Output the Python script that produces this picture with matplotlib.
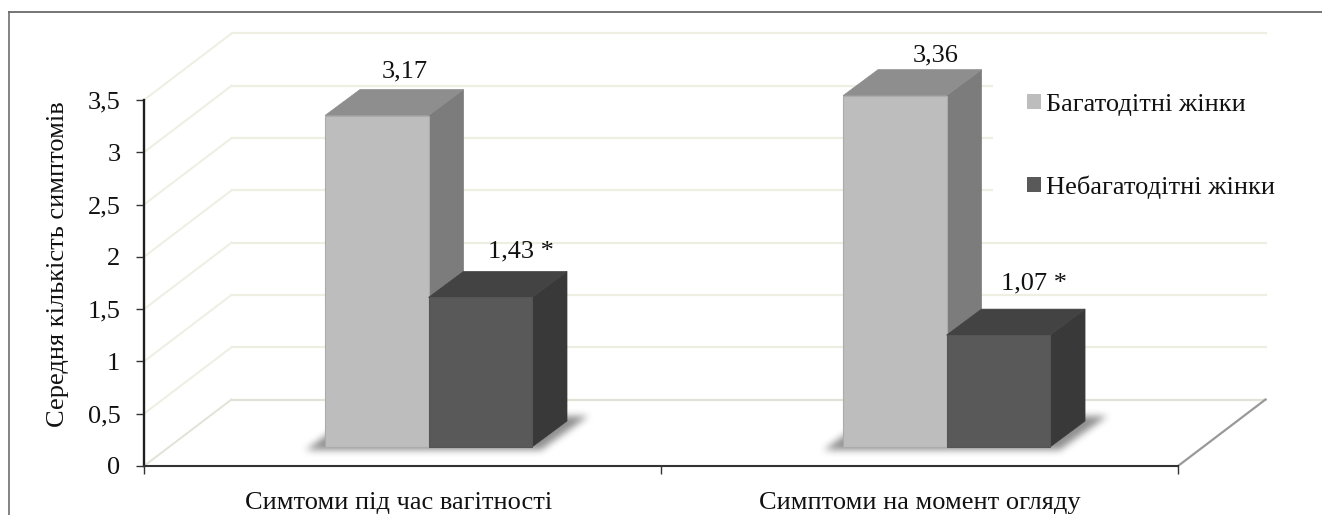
import matplotlib
matplotlib.use("Agg")
import matplotlib.pyplot as plt
import numpy as np
from matplotlib.patches import Patch, Polygon
from matplotlib.lines import Line2D

plt.rcParams['font.family'] = ['Liberation Serif', 'DejaVu Serif']

categories = ["Симтоми під час вагітності", "Симптоми на момент огляду"]
series_names = ["Багатодітні жінки", "Небагатодітні жінки"]
many_children = [3.17, 3.36]
few_children = [1.43, 1.07]
value_labels = [["3,17", "3,36"], ["1,43 *", "1,07 *"]]
y_ticks = [0, 0.5, 1, 1.5, 2, 2.5, 3, 3.5]
y_tick_labels = ["0", "0,5", "1", "1,5", "2", "2,5", "3", "3,5"]
y_title = "Середня кількість симптомів"

W, H = 1322, 515
LEFT, RIGHT, BOTTOM, TOP = 144, 1178, 466, 100
FONT = 19

fig = plt.figure(figsize=(W / 100, H / 100), dpi=100, facecolor="white")
ax = fig.add_axes([LEFT / W, 1 - BOTTOM / H, (RIGHT - LEFT) / W, (BOTTOM - TOP) / H])
ax.patch.set_alpha(0)

# pixel lengths expressed in data units, used for the oblique projection
ux = 2 / (RIGHT - LEFT)
uy = 3.5 / (BOTTOM - TOP)
WALL_DX, WALL_DY = 87.5 * ux, 66.5 * uy
BAR_W = 103.5 * ux
INSET_DX, INSET_DY = 26 * ux, 19 * uy
BAR_DX, BAR_DY = 35 * ux, 26 * uy

# outer frame of the chart (open at the right and bottom)
fig.add_artist(Line2D([9 / W, 9 / W], [0, 1 - 12 / H], color="#7a7a7a", lw=1.3))
fig.add_artist(Line2D([9 / W, 1], [1 - 12 / H, 1 - 12 / H], color="#6a6a6a", lw=1.3))

# gridlines on the side wall and the back wall
GRID = "#eeeee2"
for v in y_ticks:
    c = "#e2e2d8" if v == 0 else GRID
    ax.plot([0, WALL_DX], [v, v + WALL_DY], color=c, lw=1.4, zorder=1, clip_on=False)
    ax.plot([WALL_DX, 2 + WALL_DX], [v + WALL_DY, v + WALL_DY], color=c, lw=1.6,
            zorder=1, clip_on=False)
ax.plot([2, 2 + WALL_DX], [0, WALL_DY], color="#999999", lw=1.6, zorder=1, clip_on=False)


def box_blur(a, radius, passes=3):
    kernel = np.ones(2 * radius + 1) / (2 * radius + 1)
    for _ in range(passes):
        a = np.apply_along_axis(lambda r: np.convolve(r, kernel, mode="same"), 0, a)
        a = np.apply_along_axis(lambda r: np.convolve(r, kernel, mode="same"), 1, a)
    return a


def draw_shadow(x_left):
    """Blurred parallelogram cast on the floor beneath a pair of boxes."""
    pad = 20
    width_px = int(2 * BAR_W / ux) + 110
    height_px = 33 + 2 * pad
    yy, xx = np.mgrid[0:height_px, 0:width_px]
    # row 0 is the top of the raster; the bottom edge of the shape sits at row pad + 33
    rise = (pad + 33) - yy
    sheared = xx - rise * (46 / 33)
    mask = ((rise >= 0) & (rise <= 33) & (sheared >= pad) & (sheared <= pad + 2 * BAR_W / ux + 28))
    soft = box_blur(mask.astype(float), 3)
    rgba = np.zeros((height_px, width_px, 4))
    rgba[..., :3] = 0.2
    rgba[..., 3] = soft * 0.55
    x_start = x_left - (19 + pad) * ux
    y_start = INSET_DY - (2 + pad) * uy
    ax.imshow(rgba, extent=(x_start, x_start + width_px * ux, y_start, y_start + height_px * uy),
              origin="upper", aspect="auto", interpolation="bilinear", zorder=2, clip_on=False)


def draw_bar(x_left, value, front, top, side, edge):
    """One oblique box: front face, top face, right face."""
    xr = x_left + BAR_W
    y0, y1 = INSET_DY, INSET_DY + value
    ax.add_patch(Polygon([(xr, y0), (xr + BAR_DX, y0 + BAR_DY), (xr + BAR_DX, y1 + BAR_DY), (xr, y1)],
                         fc=side, ec=side, lw=0.5, zorder=3, clip_on=False))
    ax.add_patch(Polygon([(x_left, y1), (xr, y1), (xr + BAR_DX, y1 + BAR_DY), (x_left + BAR_DX, y1 + BAR_DY)],
                         fc=top, ec=top, lw=0.5, zorder=3, clip_on=False))
    ax.add_patch(Polygon([(x_left, y0), (xr, y0), (xr, y1), (x_left, y1)],
                         fc=front, ec=edge, lw=0.8, zorder=3, clip_on=False))


LIGHT = ("#bdbdbd", "#8e8e8e", "#7c7c7c", "#ababab")
DARK = ("#595959", "#434343", "#393939", "#555555")
group_centers = [0.5, 1.502]
label_nudges = [[(28, 44), (41, 40)], [(41, 46), (36, 52)]]

for i in range(len(categories)):
    left = group_centers[i] - BAR_W + INSET_DX
    draw_shadow(left)
    draw_bar(left, many_children[i], *LIGHT)
    draw_bar(left + BAR_W, few_children[i], *DARK)
    for j, (x, val) in enumerate([(left, many_children[i]), (left + BAR_W, few_children[i])]):
        nx, ny = label_nudges[j][i]
        ax.annotate(value_labels[j][i], xy=(x + BAR_W / 2, INSET_DY + val),
                    xytext=(nx * 0.72, ny * 0.72), textcoords="offset points",
                    ha="center", va="center", fontsize=FONT, color="#111111",
                    zorder=6, annotation_clip=False)

ax.set_xlim(0, 2)
ax.set_ylim(0, 3.5)

# axes lines and ticks
for s in ("top", "right"):
    ax.spines[s].set_visible(False)
ax.spines["left"].set_linewidth(1.7)
ax.spines["left"].set_color("#1e1e1e")
ax.spines["bottom"].set_linewidth(1.5)
ax.spines["bottom"].set_color("#333333")
for s in ax.spines.values():
    s.set_zorder(5)

ax.set_yticks(y_ticks)
ax.set_yticklabels(y_tick_labels, fontsize=FONT, color="#111111")
ax.tick_params(axis="y", length=6, width=1, color="#333333", pad=11)
ax.set_xticks([0, 1, 2])
ax.set_xticklabels([])
ax.tick_params(axis="x", length=6, width=1, color="#333333")
for i, name in enumerate(categories):
    ax.annotate(name, xy=(i + 0.5, 0), xytext=(-3 if i == 0 else 0, -37 * 0.72),
                textcoords="offset points", ha="center", va="center",
                fontsize=FONT, color="#111111", annotation_clip=False)
fig.text(58 / W, 1 - 264 / H, y_title, rotation=90, ha="center", va="center",
         fontsize=FONT, color="#111111")

legend = ax.legend(
    handles=[Patch(fc=LIGHT[0], ec="none", label=series_names[0]),
             Patch(fc=DARK[0], ec="none", label=series_names[1])],
    loc="upper left", bbox_to_anchor=(993 / W, 1 - 60 / H), bbox_transform=fig.transFigure,
    fontsize=FONT, frameon=True, facecolor="white", edgecolor="none", framealpha=1,
    borderaxespad=0, borderpad=1.3, labelspacing=2.25, handlelength=0.5, handleheight=0.5,
    handletextpad=0.2, labelcolor="#111111", fancybox=False,
)
legend.set_zorder(2.5)

fig.savefig("out.png", dpi=100, facecolor="white")
